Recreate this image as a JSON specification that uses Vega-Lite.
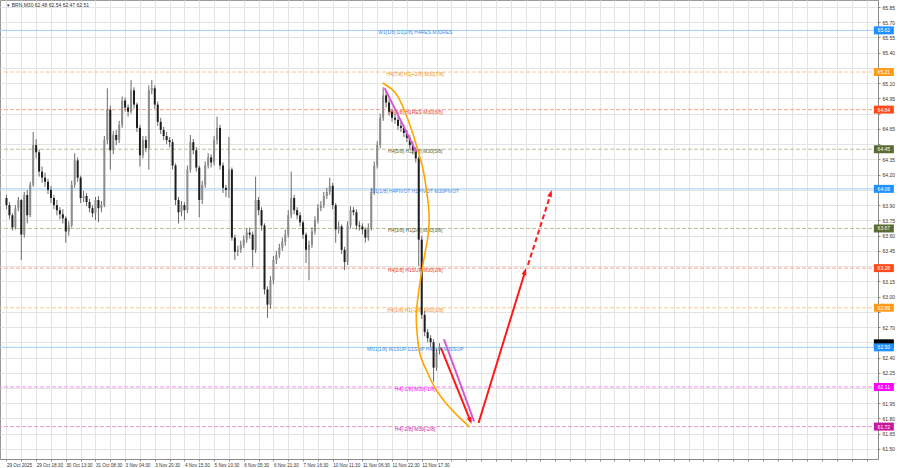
{
"$schema": "https://vega.github.io/schema/vega-lite/v6.json",
"width": 878, "height": 459,
"autosize": {"type": "none"},
"padding": {"left": 0, "top": 0, "right": 22, "bottom": 9},
"background": "white",
"config": {
  "font": "Liberation Sans",
  "view": {"stroke": "#9a9a9a", "strokeWidth": 1},
  "axis": {"labelFont": "Liberation Sans", "labelFontSize": 5, "labelColor": "#333333", "domainColor": "#8a8a8a", "tickColor": "#8a8a8a", "gridColor": "#e4e4e4", "gridWidth": 1, "tickSize": 2, "labelOverlap": false, "labelSeparation": 0, "labelBound": false, "labelFlush": false}
},
"resolve": {"scale": {"color": "independent", "fill": "independent", "stroke": "independent", "strokeDash": "independent"}},
"datasets": {
"levels": [
{"p":65.62,"kind":"blue","name":"W1[1/8] D1[2/8] H4RES M30RES"},
{"p":65.21,"kind":"orange","name":"H4[7/8] H1[+2/8] M30[7/8]"},
{"p":64.84,"kind":"red","name":"H4[6/8] H1RES M30[6/8]"},
{"p":64.45,"kind":"olive","name":"H4[5/8] H1[6/8] M30[5/8]"},
{"p":64.06,"kind":"blue","name":"D1[1/8] H4PIVOT H1PIVOT M30PIVOT"},
{"p":63.67,"kind":"olive","name":"H4[3/8] H1[2/8] M30[3/8]"},
{"p":63.28,"kind":"red","name":"H4[2/8] H1SUP M30[2/8]"},
{"p":62.89,"kind":"orange","name":"H4[1/8] H1[-2/8] M30[1/8]"},
{"p":62.50,"kind":"blue","name":"MN1[1/8] W1SUP D1SUP H4SUP M30SUP"},
{"p":62.11,"kind":"magenta","name":"H4[-1/8] M30[-1/8]"},
{"p":61.72,"kind":"pink","name":"H4[-2/8] M30[-2/8]"}
],
"price": [{"p":62.51}],
"header": [{"t":"▾ BRN,M30  62.48 62.54 62.47 62.51"}],
"candles": [
{"i":0,"o":63.97,"h":64.00,"l":63.86,"c":63.90},
{"i":1,"o":63.90,"h":63.93,"l":63.76,"c":63.80},
{"i":2,"o":63.80,"h":63.82,"l":63.65,"c":63.68},
{"i":3,"o":63.68,"h":63.90,"l":63.66,"c":63.87},
{"i":4,"o":63.87,"h":63.98,"l":63.84,"c":63.95},
{"i":5,"o":63.95,"h":63.96,"l":63.36,"c":63.61},
{"i":6,"o":63.61,"h":64.03,"l":63.58,"c":64.00},
{"i":7,"o":64.00,"h":64.05,"l":63.72,"c":63.80},
{"i":8,"o":63.80,"h":64.13,"l":63.78,"c":64.10},
{"i":9,"o":64.10,"h":64.62,"l":64.08,"c":64.49},
{"i":10,"o":64.49,"h":64.55,"l":64.36,"c":64.42},
{"i":11,"o":64.42,"h":64.45,"l":64.18,"c":64.23},
{"i":12,"o":64.23,"h":64.28,"l":64.12,"c":64.17},
{"i":13,"o":64.17,"h":64.22,"l":64.08,"c":64.13},
{"i":14,"o":64.13,"h":64.16,"l":64.01,"c":64.05},
{"i":15,"o":64.05,"h":64.09,"l":63.92,"c":63.97},
{"i":16,"o":63.97,"h":64.00,"l":63.86,"c":63.90},
{"i":17,"o":63.90,"h":63.95,"l":63.80,"c":63.85},
{"i":18,"o":63.85,"h":63.88,"l":63.76,"c":63.81},
{"i":19,"o":63.81,"h":63.86,"l":63.72,"c":63.77},
{"i":20,"o":63.77,"h":63.79,"l":63.53,"c":63.64},
{"i":21,"o":63.64,"h":63.74,"l":63.60,"c":63.70},
{"i":22,"o":63.70,"h":64.14,"l":63.68,"c":64.10},
{"i":23,"o":64.10,"h":64.41,"l":64.07,"c":64.34},
{"i":24,"o":64.34,"h":64.37,"l":64.13,"c":64.17},
{"i":25,"o":64.17,"h":64.19,"l":63.92,"c":63.97},
{"i":26,"o":63.97,"h":64.04,"l":63.93,"c":63.99},
{"i":27,"o":63.99,"h":64.02,"l":63.89,"c":63.93},
{"i":28,"o":63.93,"h":63.96,"l":63.83,"c":63.87},
{"i":29,"o":63.87,"h":63.90,"l":63.78,"c":63.82},
{"i":30,"o":63.82,"h":63.98,"l":63.75,"c":63.95},
{"i":31,"o":63.95,"h":63.99,"l":63.73,"c":63.87},
{"i":32,"o":63.87,"h":63.94,"l":63.83,"c":63.90},
{"i":33,"o":63.90,"h":64.58,"l":63.88,"c":64.54},
{"i":34,"o":64.54,"h":65.05,"l":64.50,"c":64.84},
{"i":35,"o":64.84,"h":64.88,"l":64.25,"c":64.44},
{"i":36,"o":64.44,"h":64.63,"l":64.40,"c":64.59},
{"i":37,"o":64.59,"h":64.64,"l":64.49,"c":64.54},
{"i":38,"o":64.54,"h":64.73,"l":64.51,"c":64.69},
{"i":39,"o":64.69,"h":64.97,"l":64.66,"c":64.93},
{"i":40,"o":64.93,"h":64.96,"l":64.82,"c":64.86},
{"i":41,"o":64.86,"h":64.89,"l":64.77,"c":64.82},
{"i":42,"o":64.82,"h":65.13,"l":64.80,"c":65.03},
{"i":43,"o":65.03,"h":65.06,"l":64.85,"c":64.89},
{"i":44,"o":64.89,"h":64.91,"l":64.62,"c":64.66},
{"i":45,"o":64.66,"h":64.69,"l":64.28,"c":64.39},
{"i":46,"o":64.39,"h":64.58,"l":64.36,"c":64.54},
{"i":47,"o":64.54,"h":64.58,"l":64.42,"c":64.46},
{"i":48,"o":64.46,"h":65.08,"l":64.25,"c":65.03},
{"i":49,"o":65.03,"h":65.13,"l":64.99,"c":65.05},
{"i":50,"o":65.05,"h":65.08,"l":64.85,"c":64.89},
{"i":51,"o":64.89,"h":64.92,"l":64.68,"c":64.72},
{"i":52,"o":64.72,"h":64.76,"l":64.60,"c":64.64},
{"i":53,"o":64.64,"h":64.67,"l":64.54,"c":64.58},
{"i":54,"o":64.58,"h":64.62,"l":64.50,"c":64.54},
{"i":55,"o":64.54,"h":64.57,"l":64.47,"c":64.52},
{"i":56,"o":64.52,"h":64.55,"l":64.25,"c":64.29},
{"i":57,"o":64.29,"h":64.31,"l":63.90,"c":63.95},
{"i":58,"o":63.95,"h":63.98,"l":63.72,"c":63.83},
{"i":59,"o":63.83,"h":63.94,"l":63.79,"c":63.90},
{"i":60,"o":63.90,"h":63.93,"l":63.75,"c":63.85},
{"i":61,"o":63.85,"h":64.29,"l":63.82,"c":64.25},
{"i":62,"o":64.25,"h":64.59,"l":64.22,"c":64.52},
{"i":63,"o":64.52,"h":64.55,"l":64.40,"c":64.44},
{"i":64,"o":64.44,"h":64.47,"l":64.23,"c":64.27},
{"i":65,"o":64.27,"h":64.29,"l":63.78,"c":63.95},
{"i":66,"o":63.95,"h":64.14,"l":63.91,"c":64.10},
{"i":67,"o":64.10,"h":64.33,"l":64.07,"c":64.29},
{"i":68,"o":64.29,"h":64.41,"l":64.26,"c":64.37},
{"i":69,"o":64.37,"h":64.40,"l":64.27,"c":64.32},
{"i":70,"o":64.32,"h":64.58,"l":64.29,"c":64.54},
{"i":71,"o":64.54,"h":64.77,"l":64.50,"c":64.66},
{"i":72,"o":64.66,"h":64.69,"l":64.25,"c":64.29},
{"i":73,"o":64.29,"h":64.32,"l":64.02,"c":64.07},
{"i":74,"o":64.07,"h":64.10,"l":63.98,"c":64.05},
{"i":75,"o":64.05,"h":64.57,"l":63.97,"c":64.25},
{"i":76,"o":64.25,"h":64.27,"l":63.55,"c":63.58},
{"i":77,"o":63.58,"h":63.61,"l":63.36,"c":63.44},
{"i":78,"o":63.44,"h":63.50,"l":63.40,"c":63.46},
{"i":79,"o":63.46,"h":63.55,"l":63.43,"c":63.51},
{"i":80,"o":63.51,"h":63.60,"l":63.48,"c":63.56},
{"i":81,"o":63.56,"h":63.67,"l":63.53,"c":63.63},
{"i":82,"o":63.63,"h":63.68,"l":63.57,"c":63.61},
{"i":83,"o":63.61,"h":63.64,"l":63.29,"c":63.46},
{"i":84,"o":63.46,"h":64.18,"l":63.43,"c":63.95},
{"i":85,"o":63.95,"h":63.98,"l":63.80,"c":63.85},
{"i":86,"o":63.85,"h":63.88,"l":63.65,"c":63.70},
{"i":87,"o":63.70,"h":63.72,"l":63.02,"c":63.07},
{"i":88,"o":63.07,"h":63.10,"l":62.79,"c":62.92},
{"i":89,"o":62.92,"h":63.20,"l":62.88,"c":63.16},
{"i":90,"o":63.16,"h":63.40,"l":63.12,"c":63.36},
{"i":91,"o":63.36,"h":63.45,"l":63.32,"c":63.41},
{"i":92,"o":63.41,"h":63.52,"l":63.38,"c":63.48},
{"i":93,"o":63.48,"h":63.58,"l":63.45,"c":63.54},
{"i":94,"o":63.54,"h":63.66,"l":63.50,"c":63.61},
{"i":95,"o":63.61,"h":63.85,"l":63.58,"c":63.80},
{"i":96,"o":63.80,"h":64.23,"l":63.77,"c":63.97},
{"i":97,"o":63.97,"h":64.00,"l":63.81,"c":63.85},
{"i":98,"o":63.85,"h":63.88,"l":63.76,"c":63.80},
{"i":99,"o":63.80,"h":63.83,"l":63.69,"c":63.73},
{"i":100,"o":63.73,"h":63.75,"l":63.57,"c":63.61},
{"i":101,"o":63.61,"h":63.63,"l":63.33,"c":63.46},
{"i":102,"o":63.46,"h":63.55,"l":63.16,"c":63.51},
{"i":103,"o":63.51,"h":63.68,"l":63.48,"c":63.64},
{"i":104,"o":63.64,"h":63.79,"l":63.61,"c":63.75},
{"i":105,"o":63.75,"h":63.91,"l":63.72,"c":63.87},
{"i":106,"o":63.87,"h":63.94,"l":63.84,"c":63.90},
{"i":107,"o":63.90,"h":64.03,"l":63.87,"c":63.99},
{"i":108,"o":63.99,"h":64.07,"l":63.96,"c":64.03},
{"i":109,"o":64.03,"h":64.17,"l":64.00,"c":64.09},
{"i":110,"o":64.09,"h":64.12,"l":63.86,"c":63.90},
{"i":111,"o":63.90,"h":63.92,"l":63.53,"c":63.66},
{"i":112,"o":63.66,"h":63.74,"l":63.62,"c":63.69},
{"i":113,"o":63.69,"h":63.71,"l":63.42,"c":63.46},
{"i":114,"o":63.46,"h":63.49,"l":63.26,"c":63.34},
{"i":115,"o":63.34,"h":63.74,"l":63.31,"c":63.70},
{"i":116,"o":63.70,"h":63.89,"l":63.67,"c":63.85},
{"i":117,"o":63.85,"h":63.88,"l":63.80,"c":63.83},
{"i":118,"o":63.83,"h":63.86,"l":63.66,"c":63.70},
{"i":119,"o":63.70,"h":63.74,"l":63.65,"c":63.69},
{"i":120,"o":63.69,"h":63.72,"l":63.61,"c":63.66},
{"i":121,"o":63.66,"h":63.68,"l":63.53,"c":63.58},
{"i":122,"o":63.58,"h":63.72,"l":63.55,"c":63.68},
{"i":123,"o":63.68,"h":64.07,"l":63.65,"c":64.03},
{"i":124,"o":64.03,"h":64.33,"l":64.00,"c":64.29},
{"i":125,"o":64.29,"h":64.53,"l":64.26,"c":64.49},
{"i":126,"o":64.49,"h":64.80,"l":64.46,"c":64.76},
{"i":127,"o":64.76,"h":65.06,"l":64.73,"c":64.98},
{"i":128,"o":64.98,"h":65.02,"l":64.86,"c":64.91},
{"i":129,"o":64.91,"h":64.94,"l":64.78,"c":64.82},
{"i":130,"o":64.82,"h":64.85,"l":64.72,"c":64.76},
{"i":131,"o":64.76,"h":64.80,"l":64.70,"c":64.74},
{"i":132,"o":64.74,"h":64.77,"l":64.64,"c":64.68},
{"i":133,"o":64.68,"h":64.72,"l":64.62,"c":64.66},
{"i":134,"o":64.66,"h":64.69,"l":64.57,"c":64.61},
{"i":135,"o":64.61,"h":64.64,"l":64.52,"c":64.56},
{"i":136,"o":64.56,"h":64.59,"l":64.45,"c":64.49},
{"i":137,"o":64.49,"h":64.53,"l":64.40,"c":64.44},
{"i":138,"o":64.44,"h":64.47,"l":64.32,"c":64.36},
{"i":139,"o":64.36,"h":64.38,"l":63.30,"c":63.56},
{"i":140,"o":63.56,"h":63.60,"l":62.78,"c":62.82},
{"i":141,"o":62.82,"h":62.86,"l":62.61,"c":62.65},
{"i":142,"o":62.65,"h":62.68,"l":62.55,"c":62.59},
{"i":143,"o":62.59,"h":62.62,"l":62.50,"c":62.55},
{"i":144,"o":62.55,"h":62.58,"l":62.16,"c":62.30},
{"i":145,"o":62.30,"h":62.49,"l":62.27,"c":62.45},
{"i":146,"o":62.48,"h":62.54,"l":62.43,"c":62.51}
],
"curve": [
{"k":1,"i":126.83,"p":65.102},
{"k":2,"i":131.17,"p":65.004},
{"k":3,"i":135.17,"p":64.758},
{"k":4,"i":138.17,"p":64.492},
{"k":5,"i":140.5,"p":64.246},
{"k":6,"i":141.83,"p":64.0},
{"k":7,"i":142.5,"p":63.803},
{"k":8,"i":142.17,"p":63.606},
{"k":9,"i":141.17,"p":63.439},
{"k":10,"i":139.83,"p":63.212},
{"k":11,"i":138.83,"p":63.016},
{"k":12,"i":138.17,"p":62.819},
{"k":13,"i":138.5,"p":62.622},
{"k":14,"i":139.5,"p":62.425},
{"k":15,"i":141.83,"p":62.258},
{"k":16,"i":144.5,"p":62.1},
{"k":17,"i":147.83,"p":61.962},
{"k":18,"i":152.17,"p":61.825},
{"k":19,"i":156.17,"p":61.716}
],
"segs": [
{"seg":"m1","i":127.5,"p":65.053},{"seg":"m1","i":138.17,"p":64.423},
{"seg":"r1","i":146.5,"p":62.494},{"seg":"r1","i":156.5,"p":61.77},
{"seg":"m2","i":147.5,"p":62.58},{"seg":"m2","i":157.67,"p":61.77},
{"seg":"r2","i":159.17,"p":61.756},{"seg":"r2","i":174.9,"p":63.25},
{"seg":"r3","i":175.83,"p":63.311},{"seg":"r3","i":183.6,"p":64.02}
],
"heads": [
{"seg":"r1","i":156.83,"p":61.746},
{"seg":"r2","i":175.17,"p":63.281},
{"seg":"r3","i":183.83,"p":64.049}
]
},
"layer": [
{
"data": {"name": "levels"},
"mark": {"type": "rule", "strokeWidth": 1},
"encoding": {
  "y": {"field": "p", "type": "quantitative", "title": null,
        "scale": {"domain": [61.401, 65.919], "nice": false, "zero": false},
        "axis": {"orient": "right", "title": null, "format": ".2f", "grid": true, "tickCount": 500, "labelPadding": 2, "labelOverlap": false, "labelBound": false, "labelFlush": false,
                 "labelExpr": "indexof(['65.25','64.80','64.50','64.05','63.30','62.85','62.55','62.10'], datum.label) >= 0 ? '' : datum.label",
                 "values": [61.5,61.65,61.8,61.95,62.1,62.25,62.4,62.55,62.7,62.85,63,63.15,63.3,63.45,63.6,63.75,63.9,64.05,64.2,64.35,64.5,64.65,64.8,64.95,65.1,65.25,65.4,65.55,65.7,65.85]}},
  "stroke": {"field": "kind", "type": "nominal", "legend": null,
             "scale": {"domain": ["blue","orange","red","olive","magenta","pink"], "range": ["#a3cdf5","#fcc88c","#f8a48c","#c0be98","#f58af5","#e49ad0"]}},
  "strokeDash": {"field": "kind", "type": "nominal", "legend": null,
             "scale": {"domain": ["blue","orange","red","olive","magenta","pink"], "range": [[1,0],[4,2],[4,2],[4,2],[4,2],[4,2]]}}
}
},
{
"data": {"name": "levels"},
"mark": {"type": "text", "fontSize": 5, "align": "center", "baseline": "middle", "dy": 2},
"encoding": {
  "x": {"datum": 137.83, "title": null},
  "y": {"field": "p", "type": "quantitative", "title": null},
  "text": {"field": "name"},
  "fill": {"field": "kind", "type": "nominal", "legend": null,
           "scale": {"domain": ["blue","orange","red","olive","magenta","pink"], "range": ["#3b8ee5","#f39020","#f0441a","#56682e","#ff00ff","#c8189e"]}}
}
},
{
"data": {"name": "candles"},
"mark": {"type": "rule", "strokeWidth": 1, "color": "#6a6a6a"},
"encoding": {
  "x": {"field": "i", "type": "quantitative", "title": null,
        "scale": {"domain": [-0.5, 292.1667], "nice": false, "zero": false},
        "axis": {"orient": "bottom", "title": null, "grid": true, "tickCount": 500, "labelAlign": "left", "labelPadding": 1, "labelFontSize": 4.6, "labelOverlap": false, "labelBound": false, "labelFlush": false,
                 "values": [0,5,10,15,20,25,30,35,40,45,50,55,60,65,70,75,80,85,90,95,100,105,110,115,120,125,130,135,140,145,150,155,160,165,170,175,180,185,190,195,200,205,210,215,220,225,230,235,240,245,250,255,260,265,270,275,280,285,290],
                 "labelExpr": "datum.value % 10 == 0 && datum.value <= 140 ? ['29 Oct 2025','29 Oct 18:30','30 Oct 13:30','31 Oct 08:30','3 Nov 04:30','3 Nov 20:30','4 Nov 15:30','5 Nov 10:30','6 Nov 05:30','6 Nov 21:30','7 Nov 16:30','10 Nov 11:30','11 Nov 06:30','11 Nov 22:30','12 Nov 17:30'][datum.value / 10] : ''"}},
  "y": {"field": "l", "type": "quantitative", "title": null},
  "y2": {"field": "h"}
}
},
{
"data": {"name": "candles"},
"mark": {"type": "bar", "size": 2},
"encoding": {
  "x": {"field": "i", "type": "quantitative", "title": null},
  "y": {"field": "o", "type": "quantitative", "title": null},
  "y2": {"field": "c"},
  "color": {"condition": {"test": "datum.c >= datum.o", "value": "#8c8c8c"}, "value": "#1e1e1e"}
}
},
{
"data": {"name": "curve"},
"mark": {"type": "line", "color": "#ffa500", "strokeWidth": 1.6, "interpolate": "catmull-rom"},
"encoding": {
  "x": {"field": "i", "type": "quantitative", "title": null},
  "y": {"field": "p", "type": "quantitative", "title": null},
  "order": {"field": "k", "type": "quantitative"}
}
},
{
"data": {"name": "segs"},
"mark": {"type": "line", "strokeWidth": 2},
"encoding": {
  "x": {"field": "i", "type": "quantitative", "title": null},
  "y": {"field": "p", "type": "quantitative", "title": null},
  "detail": {"field": "seg"},
  "stroke": {"field": "seg", "type": "nominal", "legend": null,
             "scale": {"domain": ["m1","r1","m2","r2","r3"], "range": ["#d45ad4","#ff1a1a","#d45ad4","#ff1a1a","#ff1a1a"]}},
  "strokeDash": {"field": "seg", "type": "nominal", "legend": null,
             "scale": {"domain": ["m1","r1","m2","r2","r3"], "range": [[1,0],[1,0],[1,0],[1,0],[5,3]]}}
}
},
{
"data": {"name": "heads"},
"transform": [{"filter": "datum.seg == 'r1'"}],
"mark": {"type": "point", "filled": true, "opacity": 1, "color": "#ff1a1a", "shape": "M0,0L-0.7,2L0.7,2Z", "size": 49, "angle": 158},
"encoding": {
  "x": {"field": "i", "type": "quantitative", "title": null},
  "y": {"field": "p", "type": "quantitative", "title": null}
}
},
{
"data": {"name": "heads"},
"transform": [{"filter": "datum.seg == 'r2'"}],
"mark": {"type": "point", "filled": true, "opacity": 1, "color": "#ff1a1a", "shape": "M0,0L-0.7,2L0.7,2Z", "size": 49, "angle": 17.5},
"encoding": {
  "x": {"field": "i", "type": "quantitative", "title": null},
  "y": {"field": "p", "type": "quantitative", "title": null}
}
},
{
"data": {"name": "heads"},
"transform": [{"filter": "datum.seg == 'r3'"}],
"mark": {"type": "point", "filled": true, "opacity": 1, "color": "#ff1a1a", "shape": "M0,0L-0.7,2L0.7,2Z", "size": 49, "angle": 18},
"encoding": {
  "x": {"field": "i", "type": "quantitative", "title": null},
  "y": {"field": "p", "type": "quantitative", "title": null}
}
},
{
"data": {"name": "price"},
"mark": {"type": "point", "filled": true, "opacity": 1, "clip": false, "color": "#000000", "shape": "M-1,-0.4H1V0.4H-1Z", "size": 400},
"encoding": {
  "x": {"datum": 295.83, "title": null},
  "y": {"field": "p", "type": "quantitative", "title": null},
  "yOffset": {"value": -3}
}
},
{
"data": {"name": "levels"},
"mark": {"type": "point", "filled": true, "opacity": 1, "clip": false, "shape": "M-1,-0.4H1V0.4H-1Z", "size": 400},
"encoding": {
  "x": {"datum": 295.83, "title": null},
  "y": {"field": "p", "type": "quantitative", "title": null},
  "color": {"field": "kind", "type": "nominal", "legend": null,
            "scale": {"domain": ["blue","orange","red","olive","magenta","pink"], "range": ["#1e90ff","#ff9b1a","#ff4a1c","#5a6b34","#ff00ff","#c8189e"]}}
}
},
{
"data": {"name": "levels"},
"mark": {"type": "text", "fontSize": 5, "align": "center", "baseline": "middle", "color": "#ffffff", "clip": false},
"encoding": {
  "x": {"datum": 295.83, "title": null},
  "y": {"field": "p", "type": "quantitative", "title": null},
  "text": {"field": "p", "type": "quantitative", "format": ".2f"}
}
},
{
"data": {"name": "header"},
"mark": {"type": "text", "fontSize": 5, "align": "left", "baseline": "middle", "color": "#333333"},
"encoding": {
  "x": {"datum": 0.3, "title": null},
  "y": {"datum": 65.87, "title": null},
  "text": {"field": "t"}
}
}
]
}
